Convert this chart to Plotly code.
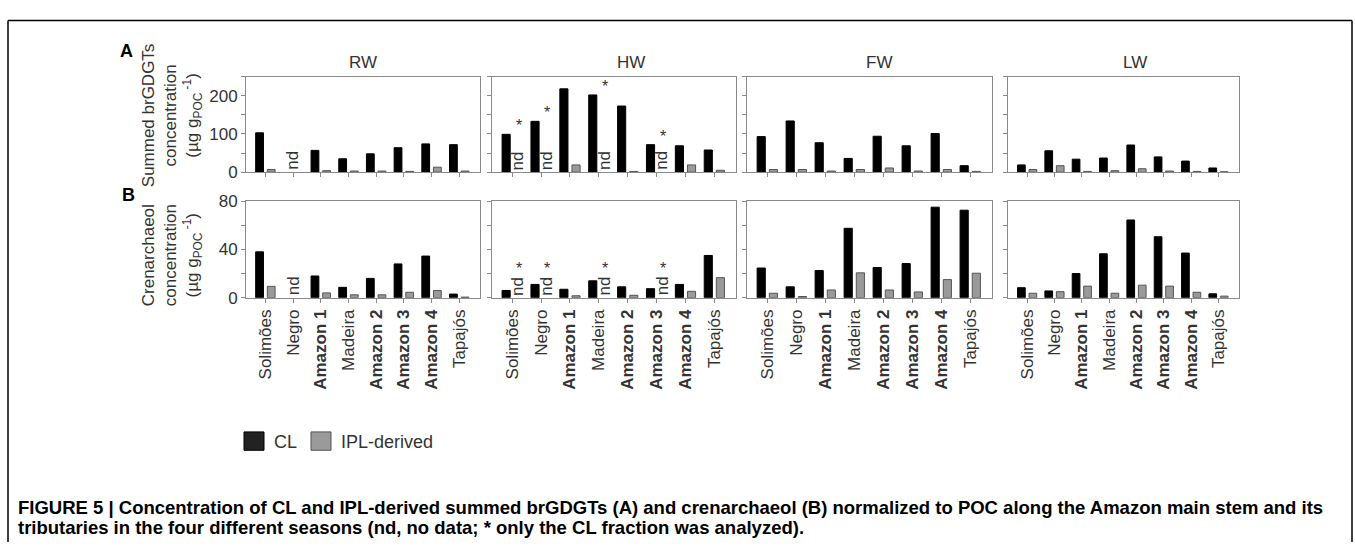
import plotly.graph_objects as go

# ---------------- data ----------------
categories = ["Solimões", "Negro", "Amazon 1", "Madeira", "Amazon 2", "Amazon 3", "Amazon 4", "Tapajós"]
bold_categories = ["Amazon 1", "Amazon 2", "Amazon 3", "Amazon 4"]
seasons = ["RW", "HW", "FW", "LW"]
series_names = ["CL", "IPL-derived"]

# (A) summed brGDGTs, µg g_POC^-1   (None = nd, no data)
brgdgt_cl_rw = [103, None, 57, 35, 48, 64, 74, 72]
brgdgt_ipl_rw = [7, None, 4, 3, 3, 2, 13, 3]
brgdgt_cl_hw = [99, 133, 218, 202, 173, 72, 69, 58]
brgdgt_ipl_hw = [None, None, 19, None, 2, None, 19, 5]
brgdgt_cl_fw = [93, 134, 77, 36, 94, 69, 101, 17]
brgdgt_ipl_fw = [7, 7, 3, 7, 11, 3, 7, 2]
brgdgt_cl_lw = [19, 56, 34, 37, 71, 40, 29, 11]
brgdgt_ipl_lw = [7, 17, 2, 4, 9, 3, 2, 1]

# (B) crenarchaeol, µg g_POC^-1
cren_cl_rw = [38, None, 18, 8.6, 16, 28, 34.5, 3]
cren_ipl_rw = [9.4, None, 4, 2.4, 2.4, 4.5, 6, 0.5]
cren_cl_hw = [6, 11, 7, 14, 9, 7.5, 11, 35]
cren_ipl_hw = [None, None, 1.6, None, 2, None, 5.3, 16.6]
cren_cl_fw = [24.6, 9, 22.5, 57.5, 25, 28.3, 75, 72.5]
cren_ipl_fw = [3.7, 1, 6.4, 20.6, 6.4, 4.8, 15, 20.3]
cren_cl_lw = [8.3, 5.6, 20, 36.4, 64.4, 50.5, 37, 3.2]
cren_ipl_lw = [3.7, 5, 9.6, 3.7, 10.4, 9.6, 4.5, 1.3]

brgdgt_major_ticks = [0, 100, 200]
brgdgt_minor_ticks = [50, 150, 250]
cren_major_ticks = [0, 40, 80]
cren_minor_ticks = [20, 60]

panels_A = [(brgdgt_cl_rw, brgdgt_ipl_rw), (brgdgt_cl_hw, brgdgt_ipl_hw),
            (brgdgt_cl_fw, brgdgt_ipl_fw), (brgdgt_cl_lw, brgdgt_ipl_lw)]
panels_B = [(cren_cl_rw, cren_ipl_rw), (cren_cl_hw, cren_ipl_hw),
            (cren_cl_fw, cren_ipl_fw), (cren_cl_lw, cren_ipl_lw)]

# ---------------- layout helpers ----------------
W, H = 1355, 552
def fx(p):
    return p / W
def fy(p):
    return 1 - p / H

FONT = "Liberation Sans, Arial, Helvetica, sans-serif"
TXT = "#333333"
AX = "#8a8a8a"
CL_COLOR = "#000000"
IPL_COLOR = "#9a9a9a"

x_px = [(246, 480), (492, 736), (747, 992), (1008, 1239)]
row_px = {"A": (70, 169), "B": (199, 299)}
title_px = [363, 631, 879, 1135]
x_range = [-0.7, 7.75]
ticktext = [f"<b>{c}</b>" if c in bold_categories else c for c in categories]
xs = list(range(len(categories)))

fig = go.Figure()
layout = {}
annotations = []

k = 0
for row, panels, yr, major, minor in [("A", panels_A, 250, brgdgt_major_ticks, brgdgt_minor_ticks),
                                      ("B", panels_B, 80, cren_major_ticks, cren_minor_ticks)]:
    top, bot = row_px[row]
    for j, (cl, ipl) in enumerate(panels):
        k += 1
        xa = f"x{k}" if k > 1 else "x"
        ya = f"y{k}" if k > 1 else "y"
        fig.add_trace(go.Bar(x=xs, y=cl, name=series_names[0], xaxis=xa, yaxis=ya,
                             marker=dict(color=CL_COLOR, line=dict(color="#000000", width=1)),
                             showlegend=False))
        fig.add_trace(go.Bar(x=xs, y=ipl, name=series_names[1], xaxis=xa, yaxis=ya,
                             marker=dict(color=IPL_COLOR, line=dict(color="#555555", width=1)),
                             showlegend=False))
        x0, x1 = x_px[j]
        layout[f"xaxis{k}" if k > 1 else "xaxis"] = dict(
            domain=[fx(x0), fx(x1)], anchor=ya, range=x_range,
            tickmode="array", tickvals=xs, ticktext=ticktext,
            showticklabels=(row == "B"),
            tickangle=-90, ticks="outside", ticklen=4, tickcolor=AX, tickwidth=1,
            showline=True, linecolor=AX, linewidth=1, mirror=True,
            showgrid=False, zeroline=False,
            tickfont=dict(family=FONT, size=17, color=TXT), fixedrange=True)
        layout[f"yaxis{k}" if k > 1 else "yaxis"] = dict(
            domain=[fy(bot), fy(top)], anchor=xa, range=[0, yr],
            tickmode="array", tickvals=major,
            showticklabels=(j == 0),
            ticks="outside", ticklen=4, tickcolor=AX, tickwidth=1,
            minor=dict(tickmode="array", tickvals=minor, ticks="outside", ticklen=4,
                       tickcolor=AX, tickwidth=1, showgrid=False),
            showline=True, linecolor=AX, linewidth=1, mirror=True,
            showgrid=False, zeroline=False,
            tickfont=dict(family=FONT, size=17, color=TXT), fixedrange=True)
        # nd labels and asterisks derived from the data
        nd_top = 21 * yr / (bot - top)
        for i in xs:
            if cl[i] is None and ipl[i] is None:
                annotations.append(dict(x=i, y=0, xref=xa, yref=ya, text="nd", textangle=-90,
                                        showarrow=False, xanchor="center", yanchor="bottom",
                                        font=dict(family=FONT, size=17, color=TXT)))
            elif ipl[i] is None:
                annotations.append(dict(x=i + 0.19, y=0, xref=xa, yref=ya, text="nd", textangle=-90,
                                        showarrow=False, xanchor="center", yanchor="bottom",
                                        font=dict(family=FONT, size=17, color=TXT)))
                annotations.append(dict(x=i + 0.22, y=max(cl[i], nd_top), xref=xa, yref=ya, text="*",
                                        showarrow=False, xanchor="center", yanchor="bottom",
                                        yshift=-2, font=dict(family=FONT, size=16, color=TXT)))

# season titles
for j, s in enumerate(seasons):
    annotations.append(dict(x=fx(title_px[j]), y=fy(55), xref="paper", yref="paper", text=s,
                            showarrow=False, xanchor="center", yanchor="middle",
                            font=dict(family=FONT, size=17, color=TXT)))

# panel letters
annotations.append(dict(x=fx(126), y=fy(43), xref="paper", yref="paper", text="<b>A</b>",
                        showarrow=False, xanchor="center", yanchor="middle",
                        font=dict(family=FONT, size=18, color="#000")))
annotations.append(dict(x=fx(128), y=fy(193), xref="paper", yref="paper", text="<b>B</b>",
                        showarrow=False, xanchor="center", yanchor="middle",
                        font=dict(family=FONT, size=18, color="#000")))

# y-axis titles
unit = "(µg g<sub>POC</sub><sup> -1</sup>)"
annotations.append(dict(x=fx(172), y=fy(110), xref="paper", yref="paper",
                        text="Summed brGDGTs<br>concentration<br>" + unit, textangle=-90,
                        showarrow=False, xanchor="center", yanchor="middle", align="center",
                        font=dict(family=FONT, size=17, color=TXT)))
annotations.append(dict(x=fx(172), y=fy(255), xref="paper", yref="paper",
                        text="Crenarchaeol<br>concentration<br>" + unit, textangle=-90,
                        showarrow=False, xanchor="center", yanchor="middle", align="center",
                        font=dict(family=FONT, size=17, color=TXT)))

# legend (key squares + labels)
legend_items = [(series_names[0], "#222222", "#000000", 244), (series_names[1], "#9a9a9a", "#555555", 311)]
shapes = []
for name, fill, edge, lx in legend_items:
    shapes.append(dict(type="rect", xref="paper", yref="paper", x0=fx(lx), x1=fx(lx + 20),
                       y0=fy(457), y1=fy(438), fillcolor=fill, line=dict(color=edge, width=1)))
    annotations.append(dict(x=fx(lx + 28), y=fy(448), xref="paper", yref="paper", text=name,
                            showarrow=False, xanchor="left", yanchor="middle",
                            font=dict(family=FONT, size=18, color=TXT)))

# caption
caption_lines = [
    "FIGURE 5 | Concentration of CL and IPL-derived summed brGDGTs (A) and crenarchaeol (B) "
    "normalized to POC along the Amazon main stem and its",
    "tributaries in the four different seasons (nd, no data; * only the CL fraction was analyzed).",
]
for line, ycap in zip(caption_lines, [516, 537]):
    annotations.append(dict(x=fx(16), y=fy(ycap), xref="paper", yref="paper", text=f"<b>{line}</b>",
                            showarrow=False, xanchor="left", yanchor="middle", align="left",
                            font=dict(family="Liberation Sans Narrow, " + FONT, size=18.5, color="#000")))

# frame
shapes += [
    dict(type="line", xref="paper", yref="paper", x0=fx(8), x1=fx(1352), y0=fy(12), y1=fy(12),
         line=dict(color="#000", width=1.5)),
    dict(type="line", xref="paper", yref="paper", x0=fx(8), x1=fx(8), y0=fy(12), y1=0,
         line=dict(color="#000", width=1.5)),
    dict(type="line", xref="paper", yref="paper", x0=fx(1352), x1=fx(1352), y0=fy(12), y1=0,
         line=dict(color="#000", width=1.5)),
]

fig.update_layout(
    width=W, height=H, margin=dict(l=0, r=0, t=0, b=0),
    paper_bgcolor="white", plot_bgcolor="white",
    barmode="group", bargap=0.16, bargroupgap=0.33,
    font=dict(family=FONT, color=TXT),
    showlegend=False,
    annotations=annotations, shapes=shapes,
    **layout,
)

fig.write_html("out.html", config={"displayModeBar": False},
               post_script="document.body.style.margin='0px';")
